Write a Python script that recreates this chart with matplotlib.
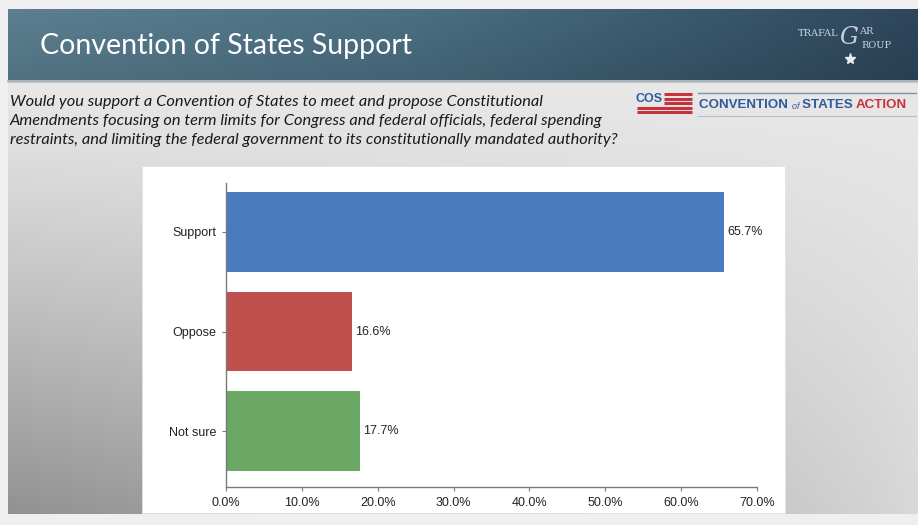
"""Convention of States Support: horizontal bar chart on a slide-style backdrop."""
import numpy as np
import matplotlib
matplotlib.use("Agg")
import matplotlib.pyplot as plt
from matplotlib.patches import Rectangle
from matplotlib.ticker import FuncFormatter

# data ---------------------------------------------------------------------
categories = ["Support", "Oppose", "Not sure"]
shares = [65.7, 16.6, 17.7]
bar_colors = ["#4a7bbf", "#c0504d", "#6aa864"]
x_ticks = [0, 10, 20, 30, 40, 50, 60, 70]

title = "Convention of States Support"
question = [
    "Would you support a Convention of States to meet and propose Constitutional",
    "Amendments focusing on term limits for Congress and federal officials, federal spending",
    "restraints, and limiting the federal government to its constitutionally mandated authority?",
]

W, H = 918, 525
fig = plt.figure(figsize=(W / 100, H / 100), dpi=100)
fig.patch.set_facecolor("#efefef")

# backdrop axes in pixel coords ------------------------------------------------
bg = fig.add_axes([0, 0, 1, 1])
bg.set_xlim(0, W)
bg.set_ylim(H, 0)
bg.axis("off")

# slide body gradient (darker toward bottom-left)
x0, x1, y0, y1 = 8, W, 81, 514
yy, xx = np.mgrid[0:1:200j, 0:1:300j]
v = 0.91 - 0.28 * yy ** 1.2 * (1 - xx) ** 0.8 - 0.06 * yy
body = np.dstack([v, v, v])
bg.imshow(body, extent=(x0, x1, y1, y0), aspect="auto", zorder=0)

# header band
hy, hx = np.mgrid[0:1:60j, 0:1:300j]
left_c = np.array([0x58, 0x7b, 0x8c]) / 255
mid_c = np.array([0x48, 0x6b, 0x7e]) / 255
right_c = np.array([0x2c, 0x44, 0x59]) / 255
t = hx[..., None]
hdr = np.where(t < 0.45,
               left_c + (mid_c - left_c) * (t / 0.45),
               mid_c + (right_c - mid_c) * ((t - 0.45) / 0.55))
hdr = hdr * (1.04 - 0.12 * hy[..., None])
hdr = np.clip(hdr, 0, 1)
bg.imshow(hdr, extent=(x0, x1, 80, 9), aspect="auto", zorder=1)
bg.plot([x0, x1], [80.5, 80.5], color="#9aa9b2", lw=1.2, zorder=2)
bg.plot([x0, x1], [82, 82], color="#c8c8c8", lw=0.8, zorder=2)

bg.text(40, 46, title, color="white", fontsize=20.5, family="Lato",
        va="center", ha="left", zorder=3)

# Trafalgar Group logo
lc = "#c9d2da"
bg.text(838, 33, "TRAFAL", color=lc, fontsize=7, family="DejaVu Serif",
        ha="right", va="center", zorder=3)
bg.text(849, 38, "G", color=lc, fontsize=17, family="DejaVu Serif",
        style="italic", ha="center", va="center", zorder=3)
bg.text(859, 32, "AR", color=lc, fontsize=7, family="DejaVu Serif",
        ha="left", va="center", zorder=3)
bg.text(861, 45, "ROUP", color=lc, fontsize=7, family="DejaVu Serif",
        ha="left", va="center", zorder=3)
bg.plot([850], [59], marker="*", ms=8, color="#e6ecf0", zorder=3)

# question text
for i, line in enumerate(question):
    bg.text(10, 102 + 19 * i, line, fontsize=11.8, family="Lato",
            style="italic", color="#1a1a1a", va="center", ha="left", zorder=3)

# Convention of States Action logo
blue, red = "#2f5a9e", "#c8323c"
for k, yv in enumerate([94, 98.5, 103, 107.5, 112]):
    bg.plot([664 if k < 3 else 637, 692], [yv, yv], color=red, lw=2.2,
            solid_capstyle="butt", zorder=3)
bg.text(636, 99, "COS", fontsize=9, fontweight="bold", color=blue,
        family="Liberation Sans", ha="left", va="center", zorder=4)
bg.plot([698, 916], [93, 93], color="#7d93b0", lw=1.0, zorder=3)
bg.plot([698, 916], [116, 116], color="#b4bfcc", lw=0.8, zorder=3)
t1 = bg.text(699, 105, "CONVENTION ", fontsize=9.6, fontweight="bold",
             color=blue, family="Liberation Sans", ha="left",
             va="center", zorder=3)
t2 = bg.annotate("of ", xy=(1, 0), xycoords=t1, fontsize=6.5, style="italic",
                 color=blue, family="Liberation Sans", ha="left",
                 va="bottom", zorder=3)
t3 = bg.annotate("STATES ", xy=(1, 0), xycoords=t2, fontsize=9.6,
                 fontweight="bold", color=blue, family="Liberation Sans",
                 ha="left", va="bottom", zorder=3)
bg.annotate("ACTION", xy=(1, 0), xycoords=t3, fontsize=9.6, fontweight="bold",
            color=red, family="Liberation Sans", ha="left",
            va="bottom", zorder=3)

# white chart panel
bg.add_patch(Rectangle((142, 166), 785 - 142, 513 - 166, facecolor="white",
                       edgecolor="#e2e2e2", lw=0.6, zorder=2))

# bar chart ------------------------------------------------------------------
L, R, T, B = 226, 757, 183, 487
ax = fig.add_axes([L / W, 1 - B / H, (R - L) / W, (B - T) / H])
ax.set_facecolor("none")
ypos = np.arange(len(categories))
ax.barh(ypos, shares, height=0.8, color=bar_colors, zorder=2)
ax.set_ylim(2.56, -0.49)
ax.set_xlim(0, 70)
ax.set_yticks(ypos)
ax.set_yticklabels(categories)
ax.set_xticks(x_ticks)
ax.xaxis.set_major_formatter(FuncFormatter(lambda x, _: f"{x:.1f}%"))
for s in ("top", "right"):
    ax.spines[s].set_visible(False)
for s in ("left", "bottom"):
    ax.spines[s].set_color("#7a7a7a")
    ax.spines[s].set_linewidth(1.0)
ax.tick_params(axis="both", direction="out", length=3, width=0.8,
               color="#7a7a7a", labelsize=9, labelcolor="#222222", pad=4)
ax.tick_params(axis="x", pad=4)
for lab in ax.get_xticklabels() + ax.get_yticklabels():
    lab.set_family("Liberation Sans")

for yv, val in zip(ypos, shares):
    ax.annotate(f"{val:.1f}%", xy=(val, yv), xytext=(2, 0),
                textcoords="offset points", ha="left", va="center",
                fontsize=9, color="#222222", family="Liberation Sans")

fig.savefig("out.png", dpi=100)
